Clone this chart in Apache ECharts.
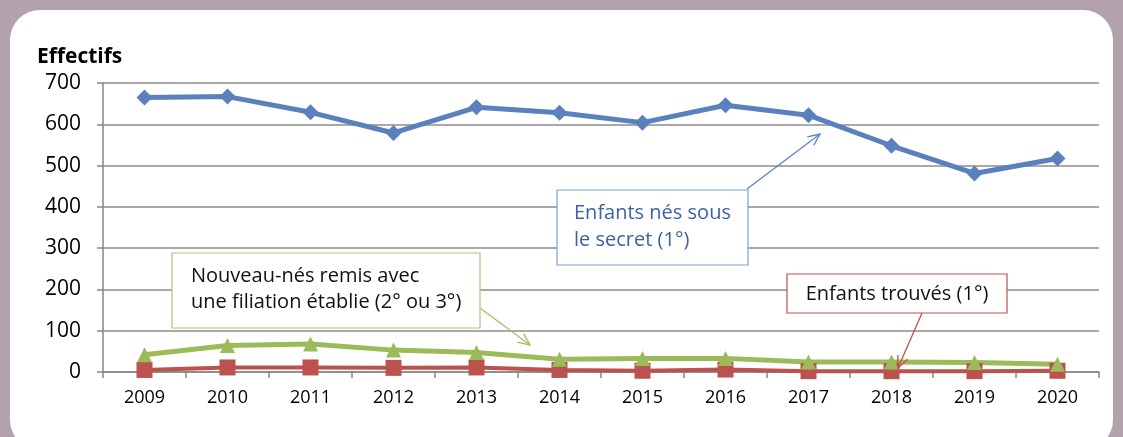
<!DOCTYPE html>
<html>
<head>
<meta charset="utf-8">
<script src="https://cdn.jsdelivr.net/npm/echarts@6/dist/echarts.min.js"></script>
<style>
    html, body { margin: 0; padding: 0; width: 1123px; height: 437px; overflow: hidden; background: #b3a1ac; }
    #card { position: absolute; left: 10px; top: 10px; width: 1103px; height: 440px; background: #fff; border-radius: 30px; }
    #chart { position: absolute; left: 0; top: 0; width: 1123px; height: 437px; }
</style>
</head>
<body>
<div id="card"></div>
<div id="chart"></div>
<script>
const years = ['2009', '2010', '2011', '2012', '2013', '2014', '2015', '2016', '2017', '2018', '2019', '2020'];
const secretBirths = [665, 667, 629, 579, 641, 628, 604, 646, 622, 548, 481, 517];
const filiationBirths = [42, 64, 68, 53, 47, 31, 33, 33, 24, 24, 23, 19];
const foundChildren = [5, 11, 11, 10, 11, 5, 3, 6, 2, 2, 2, 3];
const yTicks = { min: 0, max: 700, interval: 100 };

const FONT = '"Open Sans", sans-serif';

// open arrow: shaft + two short arms at the tip
const arrow = (x1, y1, x2, y2, color) => {
    const a = Math.atan2(y2 - y1, x2 - x1);
    const len = 13, spread = 0.42;
    const p1 = [x2 - len * Math.cos(a - spread), y2 - len * Math.sin(a - spread)];
    const p2 = [x2 - len * Math.cos(a + spread), y2 - len * Math.sin(a + spread)];
    return [
        { type: 'line', z: 100, shape: { x1, y1, x2, y2 }, style: { stroke: color, lineWidth: 1.3 } },
        { type: 'polyline', z: 100, shape: { points: [p1, [x2, y2], p2] }, style: { stroke: color, lineWidth: 1.3, fill: null } },
    ];
};

const box = (x, y, w, h, color) => ({
    type: 'rect', z: 100,
    shape: { x, y, width: w, height: h },
    style: { fill: '#fff', stroke: color, lineWidth: 1.2 },
});

const label = (x, y, text, color, align) => ({
    type: 'text', z: 101,
    style: { x, y, text, fill: color, font: '20px ' + FONT, align: align || 'left', verticalAlign: 'middle' },
});

const chart = echarts.init(document.getElementById('chart'));

const option = {
    animation: false,
    backgroundColor: 'transparent',
    grid: { left: 103, right: 24, top: 83, bottom: 65 },
    xAxis: {
        type: 'category',
        data: years,
        axisLine: { lineStyle: { color: '#868686', width: 1.5 } },
        axisTick: { show: true, length: 6, lineStyle: { color: '#868686', width: 1.5 } },
        axisLabel: { color: '#000', fontFamily: FONT, fontSize: 18, margin: 17 },
    },
    yAxis: {
        type: 'value',
        min: yTicks.min,
        max: yTicks.max,
        interval: yTicks.interval,
        axisLine: { show: true, lineStyle: { color: '#868686', width: 1.5 } },
        axisTick: { show: true, length: 6, lineStyle: { color: '#868686', width: 1.5 } },
        axisLabel: { color: '#000', fontFamily: FONT, fontSize: 21, margin: 22 },
        splitLine: { lineStyle: { color: '#8c8c8c', width: 1.5 } },
    },
    series: [
        {
            name: 'Enfants trouvés (1°)',
            type: 'line',
            data: foundChildren,
            symbol: 'rect',
            symbolSize: 16,
            itemStyle: { color: '#bb524d' },
            lineStyle: { color: '#bb524d', width: 4 },
        },
        {
            name: 'Nouveau-nés remis avec une filiation établie (2° ou 3°)',
            type: 'line',
            data: filiationBirths,
            symbol: 'triangle',
            symbolSize: 15,
            itemStyle: { color: '#9bbb59' },
            lineStyle: { color: '#9bbb59', width: 5 },
        },
        {
            name: 'Enfants nés sous le secret (1°)',
            type: 'line',
            data: secretBirths,
            symbol: 'diamond',
            symbolSize: [16, 16],
            itemStyle: { color: '#5a80bd' },
            lineStyle: { color: '#5a80bd', width: 5 },
        },
    ],
    graphic: [
        {
            type: 'text', z: 101,
            style: { x: 37, y: 57, text: 'Effectifs', fill: '#000', font: 'bold 21px ' + FONT, verticalAlign: 'middle' },
        },
        // blue callout
        ...arrow(747, 189, 820, 134, '#5b84c4'),
        box(557, 190, 191, 75, '#7ea0d6'),
        label(574, 213, 'Enfants nés sous', '#3d62a3'),
        label(574, 240, 'le secret (1°)', '#3d62a3'),
        // green callout
        ...arrow(480, 308, 530, 345, '#9fc266'),
        box(172, 253, 308, 75, '#a9c77a'),
        label(191, 276, 'Nouveau-nés remis avec', '#111'),
        label(191, 302, 'une filiation établie (2° ou 3°)', '#111'),
        // red callout
        ...arrow(922, 313, 898, 368, '#c0504d'),
        box(787, 274, 220, 39, '#c0504d'),
        label(897, 294, 'Enfants trouvés (1°)', '#111', 'center'),
    ],
};

chart.setOption(option);
</script>
</body>
</html>
